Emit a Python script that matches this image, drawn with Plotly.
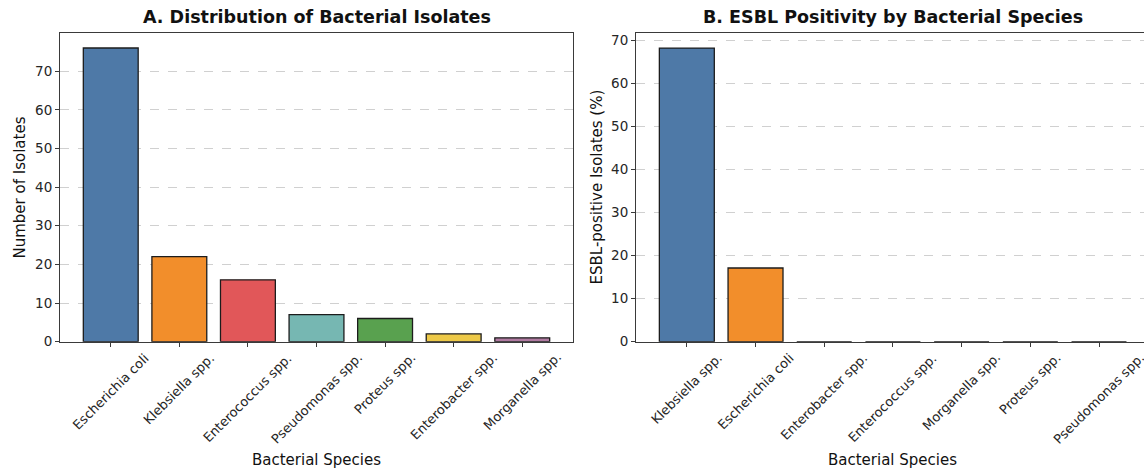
import plotly.graph_objects as go

# Panel A data
species_a = ["Escherichia coli", "Klebsiella spp.", "Enterococcus spp.", "Pseudomonas spp.",
             "Proteus spp.", "Enterobacter spp.", "Morganella spp."]
counts_a = [76, 22, 16, 7, 6, 2, 1]
colors_a = ["#4e79a7", "#f28e2b", "#e15759", "#76b7b2", "#59a14f", "#edc948", "#b07aa1"]

# Panel B data
species_b = ["Klebsiella spp.", "Escherichia coli", "Enterobacter spp.", "Enterococcus spp.",
             "Morganella spp.", "Proteus spp.", "Pseudomonas spp."]
esbl_pct_b = [68.18, 17.11, 0, 0, 0, 0, 0]
colors_b = ["#4e79a7", "#f28e2b", "#e15759", "#76b7b2", "#59a14f", "#edc948", "#b07aa1"]

W, H = 1144, 469
FONT = "DejaVu Sans"
SPINE = "#3a3a3a"
EDGE = "#1c1c1c"

fig = go.Figure()
fig.add_trace(go.Bar(x=species_a, y=counts_a, marker=dict(color=colors_a, line=dict(color=EDGE, width=1.3)),
                     width=0.8, xaxis="x", yaxis="y", showlegend=False))
fig.add_trace(go.Bar(x=species_b, y=esbl_pct_b, marker=dict(color=colors_b, line=dict(color=EDGE, width=1.3)),
                     width=0.8, xaxis="x2", yaxis="y2", showlegend=False))

y0, y1 = (H - 341.7) / H, (H - 33.3) / H
axis_common = dict(showline=True, linecolor=SPINE, linewidth=1.1, ticks="outside", ticklen=4,
                   tickcolor=SPINE, automargin=False,
                   tickfont=dict(family=FONT, size=13.5, color="#262626"))

fig.update_layout(
    width=W, height=H, margin=dict(l=0, r=0, t=0, b=0),
    paper_bgcolor="white", plot_bgcolor="white", bargap=0.2,
    font=dict(family=FONT, color="#222"),
    xaxis=dict(domain=[60 / W, 573 / W], anchor="y", type="category", range=[-0.74, 6.74],
               showticklabels=False, mirror=True, showgrid=False, **axis_common),
    yaxis=dict(domain=[y0, y1], anchor="x", range=[0, 79.8], dtick=10, mirror=True,
               showgrid=True, gridcolor="#d0d0d0", griddash="dash", gridwidth=0.8, zeroline=False,
               **axis_common),
    xaxis2=dict(domain=[636 / W, 1.0], anchor="y2", type="category", range=[-0.74, 6.655],
                showticklabels=False, mirror=True, showgrid=False, **axis_common),
    yaxis2=dict(domain=[y0, y1], anchor="x2", range=[0, 71.6], dtick=10, mirror=False,
                showgrid=True, gridcolor="#d0d0d0", griddash="dash", gridwidth=0.8, zeroline=False,
                **axis_common),
)

# rotated category labels, centred under each tick (matplotlib ha='center' style)
for xref, cats in (("x", species_a), ("x2", species_b)):
    for c in cats:
        fig.add_annotation(text=c, x=c, y=y0, xref=xref, yref="paper", xanchor="center",
                           yanchor="top", yshift=-7, textangle=-45, showarrow=False, borderpad=0,
                           font=dict(family=FONT, size=13, color="#262626"))

ann = [
    dict(text="<b>A. Distribution of Bacterial Isolates</b>", x=316.5 / W, y=(H - 17) / H, size=17.5, angle=0),
    dict(text="<b>B. ESBL Positivity by Bacterial Species</b>", x=893 / W, y=(H - 17) / H, size=17.5, angle=0),
    dict(text="Bacterial Species", x=316.5 / W, y=(H - 460) / H, size=15, angle=0),
    dict(text="Bacterial Species", x=892 / W, y=(H - 460) / H, size=15, angle=0),
    dict(text="Number of Isolates", x=19 / W, y=(H - 187.5) / H, size=15, angle=-90),
    dict(text="ESBL-positive Isolates (%)", x=596 / W, y=(H - 187.5) / H, size=15, angle=-90),
]
for a in ann:
    fig.add_annotation(text=a["text"], x=a["x"], y=a["y"], xref="paper", yref="paper",
                       xanchor="center", yanchor="middle", showarrow=False, textangle=a["angle"],
                       font=dict(family=FONT, size=a["size"], color="#111"))

fig.write_html("out.html")
